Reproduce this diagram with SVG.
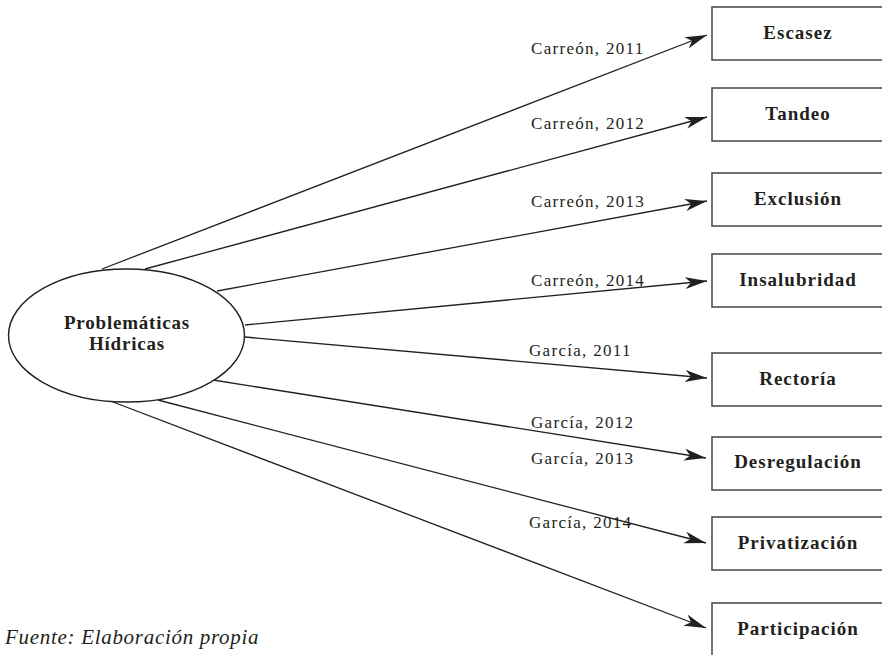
<svg xmlns="http://www.w3.org/2000/svg" width="882" height="655" viewBox="0 0 882 655">
<style>
.box{fill:#fff;stroke:#444;stroke-width:1.5}
.bt{font-family:"Liberation Serif",serif;font-weight:bold;font-size:19px;letter-spacing:1px;fill:#231f20;text-anchor:middle}
.lt{font-family:"Liberation Serif",serif;font-size:17px;letter-spacing:1.3px;fill:#231f20}
.ct{font-family:"Liberation Serif",serif;font-weight:bold;font-size:19px;letter-spacing:0.8px;fill:#231f20;text-anchor:middle}
.ln{stroke:#231f20;stroke-width:1.3;fill:none;marker-end:url(#ah)}
</style>
<defs>
<marker id="ah" markerUnits="userSpaceOnUse" markerWidth="24" markerHeight="14" refX="22" refY="6" orient="auto" viewBox="0 0 24 14">
<path d="M0,0 L22,6 L0,12 L6,6 z" fill="#231f20"/>
</marker>
</defs>
<rect width="882" height="655" fill="#fff"/>
<g id="connectors">
<line class="ln" x1="102" y1="269" x2="707" y2="35"/>
<line class="ln" x1="145" y1="269" x2="707" y2="117"/>
<line class="ln" x1="217" y1="291" x2="707" y2="201"/>
<line class="ln" x1="245" y1="325" x2="707" y2="281"/>
<line class="ln" x1="245" y1="337" x2="707" y2="378"/>
<line class="ln" x1="213" y1="380" x2="706" y2="458"/>
<line class="ln" x1="158" y1="400" x2="706" y2="543"/>
<line class="ln" x1="113" y1="402" x2="706" y2="628"/>
<text class="lt" x="531" y="54">Carreón, 2011</text>
<text class="lt" x="531" y="129">Carreón, 2012</text>
<text class="lt" x="531" y="207">Carreón, 2013</text>
<text class="lt" x="531" y="286">Carreón, 2014</text>
<text class="lt" x="529" y="356">García, 2011</text>
<text class="lt" x="531" y="428">García, 2012</text>
<text class="lt" x="531" y="464">García, 2013</text>
<text class="lt" x="529" y="528">García, 2014</text>
</g>
<g id="center">
<ellipse cx="126.5" cy="335.5" rx="118" ry="66.5" fill="#fff" stroke="#231f20" stroke-width="1.4"/>
<text class="ct" x="127" y="329">Problemáticas</text>
<text class="ct" x="127" y="350">Hídricas</text>
</g>
<g id="escasez"><rect class="box" x="712" y="7" width="180" height="53"/><text class="bt" x="798" y="39">Escasez</text></g>
<g id="tandeo"><rect class="box" x="712" y="88" width="180" height="53"/><text class="bt" x="798" y="120">Tandeo</text></g>
<g id="exclusion"><rect class="box" x="712" y="173" width="180" height="53"/><text class="bt" x="798" y="205">Exclusión</text></g>
<g id="insalubridad"><rect class="box" x="712" y="254" width="180" height="53"/><text class="bt" x="798" y="286">Insalubridad</text></g>
<g id="rectoria"><rect class="box" x="712" y="353" width="180" height="53"/><text class="bt" x="798" y="385">Rectoría</text></g>
<g id="desregulacion"><rect class="box" x="712" y="437" width="180" height="53"/><text class="bt" x="798" y="468">Desregulación</text></g>
<g id="privatizacion"><rect class="box" x="712" y="517" width="180" height="53"/><text class="bt" x="798" y="549">Privatización</text></g>
<g id="participacion"><rect class="box" x="712" y="603" width="180" height="60"/><text class="bt" x="798" y="635">Participación</text></g>
<text x="5" y="644" font-family="Liberation Serif, serif" font-style="italic" font-size="21" letter-spacing="0.7" fill="#231f20">Fuente: Elaboración propia</text>
</svg>
